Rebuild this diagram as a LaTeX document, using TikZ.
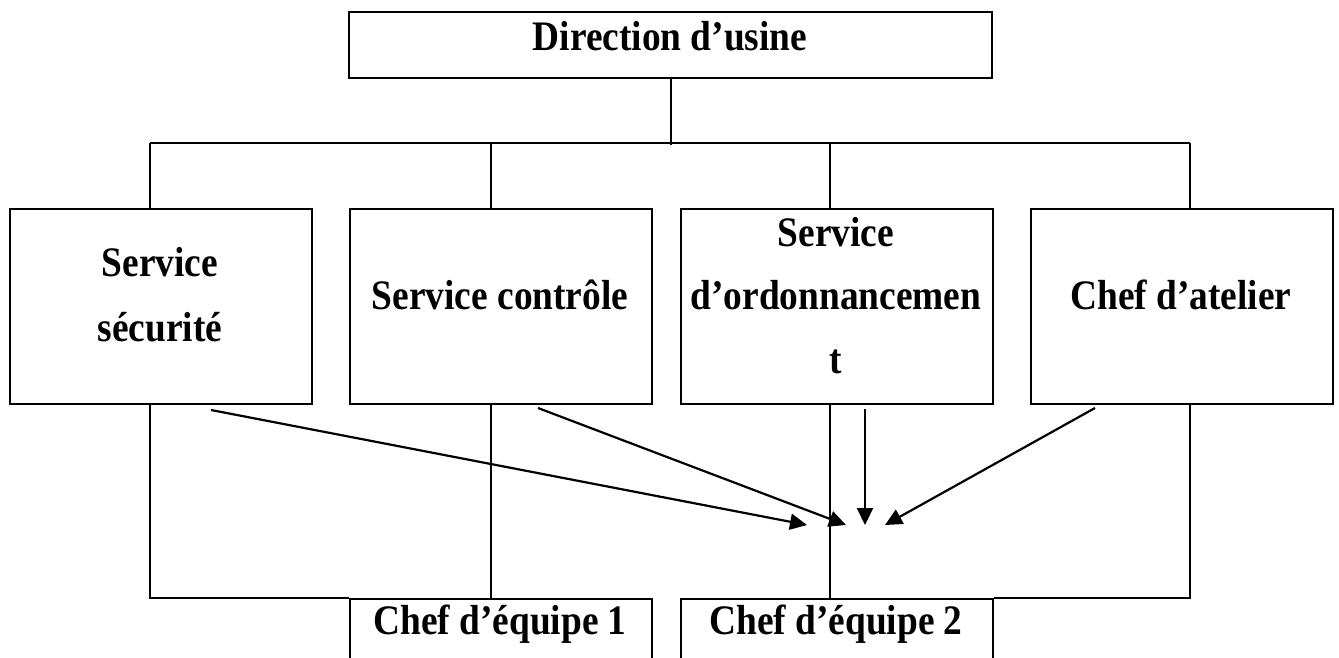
\documentclass[tikz,border=0pt]{standalone}
\usepackage{fontspec}
\setmainfont{Liberation Serif}[FakeStretch=0.89]
\usetikzlibrary{arrows.meta}
\begin{document}
\begin{tikzpicture}[x=1pt,y=-1pt,
  box/.style={draw, line width=2.2pt, rectangle, inner sep=0pt, anchor=north west},
  lbl/.style={font=\bfseries\fontsize{42}{65}\selectfont, anchor=base, inner sep=0pt},
  wire/.style={line width=2pt},
  arr/.style={line width=2.2pt, -{Triangle[length=17pt,width=16pt]}}]
\useasboundingbox (0,0) rectangle (1339,658);
\clip (0,0) rectangle (1339,658);

% boxes
\node[box, minimum width=643pt, minimum height=66pt]  (dir) at (348,11)  {};
\node[box, minimum width=302pt, minimum height=195pt] (sec) at (9,208)   {};
\node[box, minimum width=302pt, minimum height=195pt] (ctl) at (349,208) {};
\node[box, minimum width=312pt, minimum height=195pt] (ord) at (680,208) {};
\node[box, minimum width=302pt, minimum height=195pt] (atl) at (1030,208) {};
\node[box, minimum width=302pt, minimum height=122pt] (eq1) at (349,598) {};
\node[box, minimum width=312pt, minimum height=122pt] (eq2) at (680,598) {};

% texts
\node[lbl] (dir-t)  at (670,51)   {Direction d’usine};
\node[lbl] (sec-t1) at (160,276)  {Service};
\node[lbl] (sec-t2) at (160,341)  {sécurité};
\node[lbl] (ctl-t)  at (500,309)  {Service contrôle};
\node[lbl] (ord-t1) at (836,246)  {Service};
\node[lbl] (ord-t2) at (836,309)  {d’ordonnancemen};
\node[lbl] (ord-t3) at (836,373)  {t};
\node[lbl] (atl-t)  at (1181,309) {Chef d’atelier};
\node[lbl] (eq1-t)  at (500,634)  {Chef d’équipe 1};
\node[lbl] (eq2-t)  at (836,634)  {Chef d’équipe 2};

% tree wiring
\path (dir.south) ++(0,66) coordinate (bus);
\coordinate (d1) at (150,143);
\coordinate (d2) at (491,143);
\coordinate (d3) at (830,143);
\coordinate (d4) at (1190,143);
\draw[wire] (dir.south) -- (bus);
\draw[wire] (d1) -- (d4);
\draw[wire] (d1) -- (d1 |- sec.north);
\draw[wire] (d2) -- (d2 |- ctl.north);
\draw[wire] (d3) -- (d3 |- ord.north);
\draw[wire] (d4) -- (d4 |- atl.north);
\draw[wire] (d1 |- sec.south) -- (d1 |- eq1.north) -- (eq1.north west);
\draw[wire] (d2 |- ctl.south) -- (d2 |- eq1.north);
\draw[wire] (d3 |- ord.south) -- (d3 |- eq2.north);
\draw[wire] (d4 |- atl.south) -- (d4 |- eq2.north) -- (eq2.north east);

% converging arrows
\coordinate (s1) at (211,410);  \coordinate (t1) at (807,525);
\coordinate (s2) at (538,408);  \coordinate (t2) at (846,525);
\coordinate (s3) at (865,409);  \coordinate (t3) at (865,525);
\coordinate (s4) at (1095,408); \coordinate (t4) at (885,525);
\draw[arr] (s1) -- (t1);
\draw[arr] (s2) -- (t2);
\draw[arr] (s3) -- (t3);
\draw[arr] (s4) -- (t4);
\end{tikzpicture}
\end{document}
